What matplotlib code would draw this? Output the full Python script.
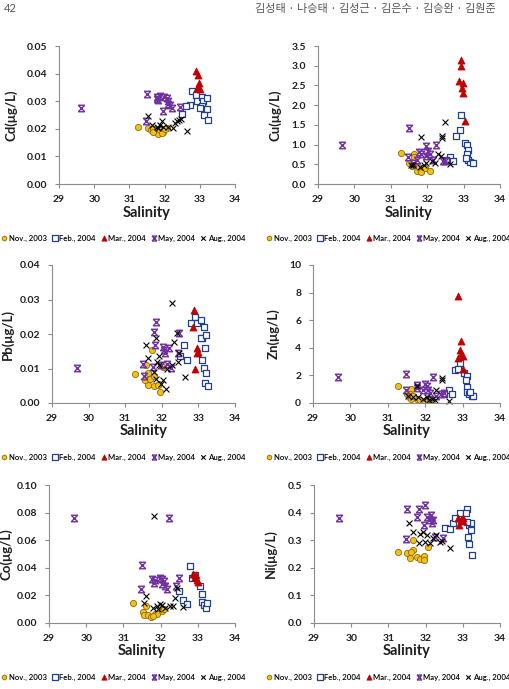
import matplotlib
matplotlib.use("Agg")
import matplotlib.pyplot as plt
from matplotlib.path import Path

plt.rcParams['font.family'] = ['Lato', 'DejaVu Sans']

months = ['Nov., 2003', 'Feb., 2004', 'Mar., 2004', 'May, 2004', 'Aug., 2004']

# (salinity, concentration), per survey month
cd_nov = [(31.25, 0.0205), (31.54, 0.0202), (31.61, 0.0196), (31.68, 0.0200), (31.75, 0.0193), (31.82, 0.0181),
          (31.87, 0.0196), (31.96, 0.0190), (32.06, 0.0202), (31.92, 0.0184), (31.66, 0.0189), (32.01, 0.0199)]
cd_feb = [(32.77, 0.0337), (32.89, 0.0323), (32.91, 0.0299), (33.05, 0.0317), (33.10, 0.0302), (33.21, 0.0311),
          (33.05, 0.0281), (33.15, 0.0272), (33.20, 0.0272), (33.13, 0.0251), (33.24, 0.0233), (32.72, 0.0287),
          (32.61, 0.0283), (32.50, 0.0253), (33.00, 0.0275)]
cd_mar = [(32.88, 0.0411), (32.94, 0.0395), (32.98, 0.0365), (32.91, 0.0347), (33.01, 0.0343), (32.96, 0.0353)]
cd_may = [(29.63, 0.0275), (31.49, 0.0326), (31.47, 0.0227), (31.77, 0.0317), (31.82, 0.0305), (31.87, 0.0320),
          (31.99, 0.0317), (32.06, 0.0310), (32.10, 0.0299), (32.09, 0.0290), (32.15, 0.0287), (32.22, 0.0275),
          (31.95, 0.0263), (32.44, 0.0278), (31.77, 0.0307)]
cd_aug = [(31.54, 0.0245), (31.63, 0.0214), (31.77, 0.0208), (31.87, 0.0214), (31.92, 0.0227), (31.82, 0.0202),
          (31.96, 0.0206), (32.10, 0.0208), (32.25, 0.0202), (32.30, 0.0220), (32.34, 0.0227), (32.42, 0.0233),
          (32.47, 0.0235), (32.63, 0.0193)]

cu_nov = [(31.27, 0.79), (31.63, 0.77), (31.64, 0.68), (31.50, 0.53), (31.57, 0.45), (31.71, 0.32), (31.82, 0.30),
          (31.94, 0.41), (32.07, 0.32), (31.60, 0.49), (31.75, 0.45)]
cu_feb = [(32.92, 1.76), (32.89, 1.38), (32.79, 1.23), (33.04, 1.03), (33.08, 1.00), (33.11, 0.87), (33.08, 0.75),
          (33.13, 0.62), (33.17, 0.55), (33.27, 0.52), (32.62, 0.68), (32.72, 0.58), (32.53, 0.62), (33.06, 0.66)]
cu_mar = [(32.93, 3.14), (32.93, 2.99), (32.88, 2.61), (32.99, 2.57), (32.95, 2.44), (32.97, 2.30), (33.04, 1.59)]
cu_may = [(29.66, 1.00), (31.50, 1.41), (31.48, 0.68), (31.77, 0.81), (31.82, 0.75), (31.98, 0.96), (32.03, 0.83),
          (32.07, 0.75), (32.23, 1.00), (32.17, 0.62), (32.44, 0.59), (32.49, 0.58), (31.71, 0.62), (31.61, 0.53),
          (31.98, 0.70)]
cu_aug = [(31.84, 1.19), (32.41, 1.17), (32.41, 1.21), (32.48, 1.57), (32.30, 0.75), (32.37, 0.72), (32.62, 0.51),
          (31.61, 0.49), (31.80, 0.43), (31.91, 0.47), (31.98, 0.52), (32.12, 0.58), (32.21, 0.53), (31.55, 0.47)]

pb_nov = [(31.26, 0.0085), (31.72, 0.0155), (31.58, 0.0109), (31.63, 0.0087), (31.61, 0.0066), (31.62, 0.0051),
          (31.54, 0.0066), (31.67, 0.0071), (31.80, 0.0077), (31.79, 0.0048), (31.93, 0.0056), (31.95, 0.0033),
          (32.04, 0.0105), (31.90, 0.0051)]
pb_feb = [(32.91, 0.0250), (32.80, 0.0231), (32.95, 0.0231), (33.06, 0.0240), (33.11, 0.0187), (33.08, 0.0189),
          (33.16, 0.0221), (33.22, 0.0196), (33.18, 0.0158), (33.09, 0.0126), (33.15, 0.0101), (33.20, 0.0087),
          (33.18, 0.0058), (33.25, 0.0048), (32.62, 0.0169), (32.51, 0.0136), (32.70, 0.0124)]
pb_mar = [(32.89, 0.0271), (32.85, 0.0219), (32.95, 0.0158), (33.00, 0.0148), (32.97, 0.0145), (32.92, 0.0100)]
pb_may = [(29.68, 0.0101), (31.84, 0.0235), (31.80, 0.0206), (31.81, 0.0167), (31.49, 0.0112), (31.51, 0.0078),
          (31.76, 0.0103), (32.02, 0.0163), (32.07, 0.0155), (32.10, 0.0146), (32.19, 0.0160), (32.13, 0.0112),
          (32.24, 0.0101), (32.48, 0.0203), (32.43, 0.0145), (31.99, 0.0109)]
pb_aug = [(32.29, 0.0289), (31.56, 0.0168), (31.63, 0.0131), (31.84, 0.0187), (31.86, 0.0119), (31.93, 0.0136),
          (31.79, 0.0090), (31.84, 0.0071), (32.02, 0.0066), (31.99, 0.0056), (32.11, 0.0042), (32.27, 0.0109),
          (32.34, 0.0177), (32.42, 0.0203), (32.45, 0.0119), (32.48, 0.0145), (32.63, 0.0074), (32.13, 0.0100),
          (31.93, 0.0109)]

zn_nov = [(31.26, 1.21), (31.63, 1.04), (31.52, 0.63), (31.57, 0.44), (31.59, 0.63), (31.63, 0.31), (31.77, 0.31),
          (31.86, 0.24), (32.04, 0.24), (32.13, 0.31), (31.68, 0.48)]
zn_feb = [(32.93, 2.93), (32.79, 2.37), (32.88, 2.49), (33.04, 2.18), (33.13, 1.94), (33.09, 1.65), (33.11, 1.16),
          (33.13, 0.80), (33.17, 0.63), (33.24, 0.48), (33.29, 0.48), (32.63, 0.97), (32.71, 0.63), (32.51, 0.63),
          (33.20, 0.80)]
zn_mar = [(32.88, 7.75), (32.95, 4.50), (32.93, 3.83), (32.97, 3.54), (32.87, 3.29), (33.02, 2.49), (33.00, 3.39)]
zn_may = [(29.67, 1.89), (31.50, 2.13), (32.21, 1.89), (31.48, 0.97), (31.77, 1.28), (31.79, 1.11), (32.00, 1.36),
          (32.04, 1.21), (32.08, 0.97), (32.13, 0.73), (32.30, 0.48), (32.41, 0.63), (32.50, 0.73), (31.95, 0.92)]
zn_aug = [(31.79, 1.21), (32.44, 1.69), (32.46, 1.84), (32.28, 0.97), (31.54, 0.48), (31.68, 0.44), (31.81, 0.44),
          (31.93, 0.31), (32.04, 0.44), (32.17, 0.31), (32.26, 0.19), (32.63, 0.12), (32.11, 0.24)]

co_nov = [(31.26, 0.0147), (31.62, 0.0121), (31.53, 0.0080), (31.55, 0.0056), (31.67, 0.0056), (31.74, 0.0043),
          (31.85, 0.0063), (31.91, 0.0068), (32.03, 0.0087), (32.10, 0.0104), (31.80, 0.0048)]
co_feb = [(32.79, 0.0411), (32.85, 0.0329), (32.92, 0.0350), (33.06, 0.0266), (33.10, 0.0208), (33.10, 0.0152),
          (33.17, 0.0128), (33.21, 0.0111), (33.25, 0.0145), (32.50, 0.0232), (32.61, 0.0169), (32.72, 0.0135)]
co_mar = [(32.88, 0.0357), (32.92, 0.0333), (32.97, 0.0314), (33.01, 0.0297), (32.95, 0.0345)]
co_may = [(29.66, 0.0761), (32.22, 0.0761), (31.50, 0.0423), (31.47, 0.0249), (31.78, 0.0316), (31.85, 0.0309),
          (31.82, 0.0290), (31.98, 0.0326), (32.05, 0.0321), (32.10, 0.0304), (32.03, 0.0280), (32.11, 0.0266),
          (32.18, 0.0244), (32.49, 0.0326), (32.41, 0.0266)]
co_aug = [(31.83, 0.0775), (31.62, 0.0193), (31.55, 0.0145), (31.80, 0.0111), (31.89, 0.0121), (31.98, 0.0135),
          (32.05, 0.0128), (32.11, 0.0109), (32.25, 0.0121), (32.32, 0.0126), (32.38, 0.0184), (32.43, 0.0256),
          (32.61, 0.0116), (31.94, 0.0104)]

ni_nov = [(31.26, 0.259), (31.50, 0.255), (31.65, 0.301), (31.57, 0.235), (31.66, 0.265), (31.76, 0.239),
          (31.85, 0.231), (31.95, 0.243), (31.95, 0.229), (32.07, 0.277), (31.62, 0.259)]
ni_feb = [(32.52, 0.343), (32.65, 0.340), (32.73, 0.361), (32.79, 0.380), (32.92, 0.400), (33.10, 0.412),
          (33.08, 0.400), (33.17, 0.355), (33.22, 0.361), (33.21, 0.337), (33.13, 0.313), (33.17, 0.286),
          (33.25, 0.247), (33.12, 0.367)]
ni_mar = [(32.88, 0.380), (32.95, 0.374), (33.00, 0.368), (32.90, 0.355), (33.00, 0.380)]
ni_may = [(29.66, 0.380), (31.50, 0.412), (31.48, 0.304), (31.81, 0.412), (31.78, 0.383), (31.98, 0.428),
          (32.03, 0.383), (32.10, 0.374), (32.14, 0.392), (32.20, 0.374), (32.16, 0.364), (31.95, 0.355),
          (32.25, 0.311), (32.47, 0.307)]
ni_aug = [(31.56, 0.364), (31.65, 0.328), (31.83, 0.289), (31.85, 0.323), (31.94, 0.328), (32.03, 0.319),
          (32.11, 0.289), (32.19, 0.307), (32.28, 0.319), (32.38, 0.295), (32.43, 0.298), (32.65, 0.271),
          (31.98, 0.292)]

# x with bars top and bottom (Excel style star marker)
star = Path([(-1, -1), (1, 1), (-1, 1), (1, -1), (-1, 1), (1, 1), (-1, -1), (1, -1)],
            [Path.MOVETO, Path.LINETO] * 4)

styles = [
    dict(marker='o', s=20, facecolor='#F2C018', edgecolor='#8C6D00', linewidths=0.6),
    dict(marker='s', s=24, facecolor='white', edgecolor='#23408E', linewidths=0.9),
    dict(marker='^', s=26, facecolor='#C00000', edgecolor='#C00000', linewidths=0.5),
    dict(marker=star, s=22, color='#7030A0', linewidths=1.0),
    dict(marker='x', s=18, color='black', linewidths=0.8),
]

# name, series, ymax, ystep, format, axes box (px), legend centre x, ylabel centre x
panels = [
    ('Cd', [cd_nov, cd_feb, cd_mar, cd_may, cd_aug], 0.05, 0.01, '%.2f', [59, 235, 46, 184], 123, 17),
    ('Cu', [cu_nov, cu_feb, cu_mar, cu_may, cu_aug], 3.5, 0.5, '%.1f', [318, 500, 46, 184], 388, 282),
    ('Pb', [pb_nov, pb_feb, pb_mar, pb_may, pb_aug], 0.04, 0.01, '%.2f', [52, 235, 265, 403], 123, 14),
    ('Zn', [zn_nov, zn_feb, zn_mar, zn_may, zn_aug], 10, 2, '%d', [313, 500, 265, 403], 388, 280),
    ('Co', [co_nov, co_feb, co_mar, co_may, co_aug], 0.10, 0.02, '%.2f', [49, 235, 485, 623], 123, 12),
    ('Ni', [ni_nov, ni_feb, ni_mar, ni_may, ni_aug], 0.5, 0.1, '%.1f', [314, 500, 485, 623], 388, 277),
]

W, H = 509, 689
fig = plt.figure(figsize=(W / 100, H / 100), dpi=100)
axis_grey = '#8C8C8C'

for name, series, ymax, ystep, fmt, (x0, x1, yt, yb), leg_x, lab_x in panels:
    ax = fig.add_axes([x0 / W, 1 - yb / H, (x1 - x0) / W, (yb - yt) / H])
    handles = []
    for pts, st, lab in zip(series, styles, months):
        xs = [p[0] for p in pts]
        ys = [p[1] for p in pts]
        handles.append(ax.scatter(xs, ys, label=lab, clip_on=False, **st))
    ax.set_xlim(29, 34)
    ax.set_ylim(0, ymax)
    ax.set_xticks(range(29, 35))
    n = int(round(ymax / ystep))
    yt_vals = [i * ystep for i in range(n + 1)]
    ax.set_yticks(yt_vals)
    ax.set_yticklabels([fmt % v for v in yt_vals])
    for sp in ['top', 'right']:
        ax.spines[sp].set_visible(False)
    for sp in ['left', 'bottom']:
        ax.spines[sp].set_color(axis_grey)
        ax.spines[sp].set_linewidth(0.8)
    ax.tick_params(direction='out', length=3, width=0.8, color=axis_grey,
                   labelsize=7.5, labelcolor='#1F1F1F')
    ax.tick_params(axis='y', pad=5.5)
    ax.tick_params(axis='x', pad=5)
    for t in ax.get_xticklabels() + ax.get_yticklabels():
        t.set_fontweight('bold')
    ax.set_xlabel('Salinity', fontsize=10.5, fontweight='bold', color='#1F1F1F', labelpad=1)
    ax.set_ylabel(name + '(\u03bcg/L)', fontsize=9.5, fontweight='bold', color='#1F1F1F')
    ax.yaxis.set_label_coords((lab_x - x0) / (x1 - x0), 0.5)
    fig.legend(handles=handles, loc='center', bbox_to_anchor=(leg_x / W, 1 - (yb + 54) / H),
               ncol=5, frameon=False, handletextpad=0.15, columnspacing=0.55,
               handlelength=0.9, borderaxespad=0, borderpad=0, markerscale=0.75,
               prop={'family': ['Lato', 'DejaVu Sans'], 'size': 5.6, 'weight': 'semibold'})

fig.text(4 / W, 1 - 9 / H, '42', fontsize=8, color='#555555', va='center', ha='left')
fig.text(496 / W, 1 - 9 / H, '김성태 · 나승태 · 김성근 · 김은수 · 김승완 · 김원준', fontsize=8,
         color='#555555', va='center', ha='right', family=['Noto Sans CJK KR', 'DejaVu Sans'])

fig.savefig('out.png', dpi=100)
